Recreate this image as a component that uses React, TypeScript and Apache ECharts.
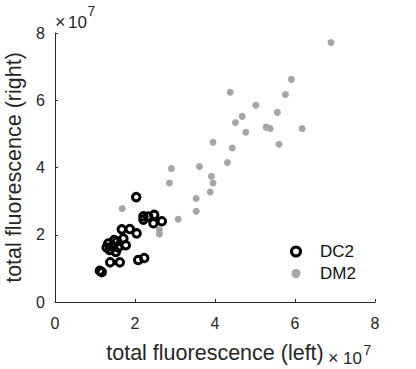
import React, { useEffect, useRef } from "react";
import * as echarts from "echarts";

// values in units of 10^7
const dc2Points: number[][] = [
  [1.12, 0.93], [1.17, 0.89], [1.38, 1.18], [1.62, 1.18], [2.08, 1.25], [2.23, 1.31],
  [1.33, 1.74], [1.29, 1.62], [1.48, 1.84], [1.67, 2.16], [1.87, 2.17], [2.04, 2.04],
  [1.77, 1.69], [1.58, 1.62], [1.52, 1.49], [1.71, 1.89], [1.37, 1.55], [1.55, 1.8],
  [1.44, 1.66], [2.21, 2.55], [2.21, 2.45], [2.48, 2.59], [2.46, 2.34], [2.67, 2.4],
  [2.33, 2.54], [2.03, 3.12],
];

const dm2Points: number[][] = [
  [6.9, 7.72], [5.91, 6.62], [4.38, 6.24], [5.76, 6.17], [5.02, 5.85], [5.56, 5.64],
  [4.68, 5.52], [4.51, 5.34], [5.28, 5.2], [5.38, 5.16], [6.18, 5.16], [4.77, 5.05],
  [3.95, 4.75], [5.6, 4.69], [4.43, 4.58], [4.31, 4.15], [3.61, 4.03], [2.91, 3.97],
  [3.91, 3.74], [3.95, 3.54], [2.86, 3.54], [3.88, 3.27], [3.53, 3.08], [3.53, 2.7],
  [3.08, 2.46], [1.68, 2.78], [2.61, 2.15], [2.61, 2.02],
];

const seriesNames = ["DC2", "DM2"];
const xTitle = "total fluorescence (left)";
const yTitle = "total fluorescence (right)";
const axisMin = 0;
const axisMax = 8;
const axisStep = 2;

const FONT = "'Liberation Sans', Arial, Helvetica, sans-serif";
const INK = "#262626";
const GRAY = "#a6a6a6";

export default function App() {
  const ref = useRef<HTMLDivElement>(null);
  useEffect(() => {
    if (!ref.current) return;
    const chart = echarts.init(ref.current, undefined, { renderer: "svg" });
    const axisCommon = {
      type: "value" as const,
      min: axisMin,
      max: axisMax,
      interval: axisStep,
      splitLine: { show: false },
      axisLine: { show: true, lineStyle: { color: INK, width: 1 } },
      axisTick: { show: true, inside: true, length: 3, lineStyle: { color: INK } },
      axisLabel: { fontSize: 16, color: INK, fontFamily: FONT },
      nameLocation: "middle" as const,
      nameTextStyle: { fontSize: 21.5, color: INK, fontFamily: FONT },
    };
    const txt = (text: string, x: number, y: number, size: number) => ({
      type: "text",
      style: { text, x, y, font: `${size}px ${FONT}`, fill: INK, textVerticalAlign: "middle" },
    });
    chart.setOption({
      animation: false,
      backgroundColor: "#ffffff",
      grid: { left: 55, right: 41, top: 33, bottom: 67, containLabel: false, outerBoundsMode: "none" },
      xAxis: { ...axisCommon, name: xTitle, nameGap: 40, axisLabel: { ...axisCommon.axisLabel, margin: 13 } },
      yAxis: { ...axisCommon, name: yTitle, nameGap: 21, axisLabel: { ...axisCommon.axisLabel, margin: 10 } },
      legend: {
        orient: "vertical",
        left: 285,
        top: 238,
        itemWidth: 38,
        itemHeight: 9,
        itemGap: 5,
        icon: "circle",
        textStyle: { fontSize: 17, color: "#111", fontFamily: FONT, lineHeight: 17 },
        data: [
          { name: seriesNames[0], itemStyle: { color: "rgba(0,0,0,0)", borderColor: "#000", borderWidth: 3 } },
          { name: seriesNames[1], itemStyle: { color: GRAY, borderWidth: 0 } },
        ],
      },
      series: [
        {
          name: seriesNames[0],
          type: "scatter",
          data: dc2Points,
          symbol: "circle",
          symbolSize: 7.5,
          itemStyle: { color: "rgba(0,0,0,0)", borderColor: "#000", borderWidth: 3, opacity: 1 },
        },
        {
          name: seriesNames[1],
          type: "scatter",
          data: dm2Points,
          symbol: "circle",
          symbolSize: 7,
          itemStyle: { color: GRAY, opacity: 1 },
        },
      ],
      graphic: [
        txt("×", 55, 22, 18),
        txt("10", 68, 22, 17),
        txt("7", 87.5, 11, 14),
        txt("×", 328, 358, 18),
        txt("10", 343, 358, 17),
        txt("7", 363.5, 350, 14),
      ],
    });
    return () => chart.dispose();
  }, []);
  return (
    <div
      ref={ref}
      style={{ position: "fixed", left: 0, top: 0, width: 416, height: 369, background: "#fff" }}
    />
  );
}
